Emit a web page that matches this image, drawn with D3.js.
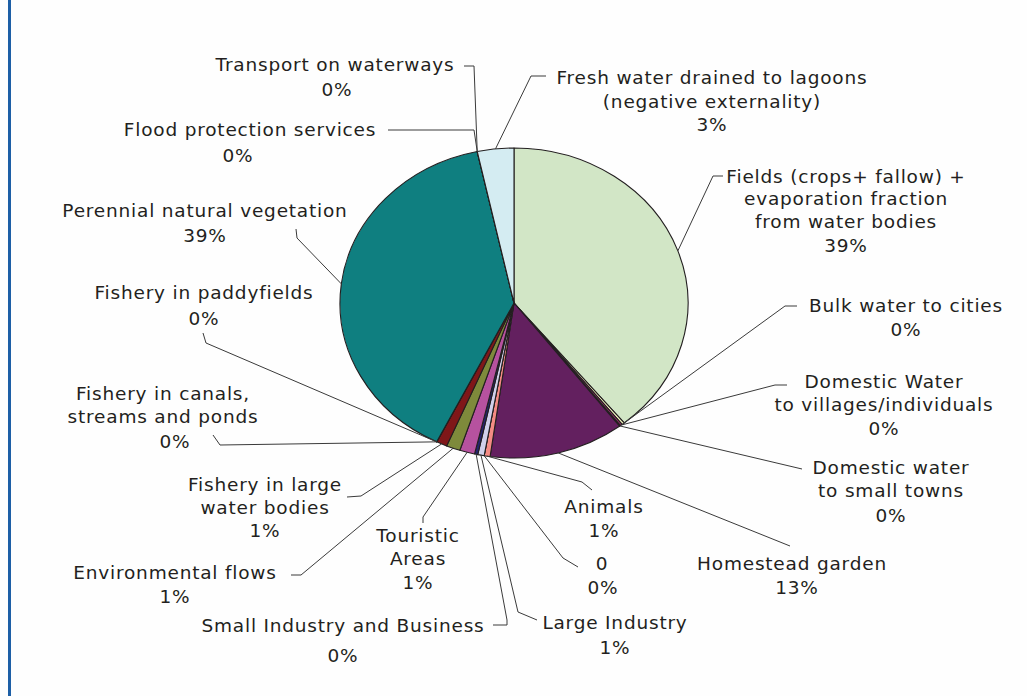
<!DOCTYPE html>
<html>
<head>
<meta charset="utf-8">
<script src="https://cdn.jsdelivr.net/npm/d3@7"></script>
<style>
  html, body { margin: 0; padding: 0; background: #fefefe; }
  svg { display: block; }
  .lbl { font-family: "DejaVu Sans", sans-serif; font-size: 18.5px; letter-spacing: 0.8px; fill: #231f20; }
</style>
</head>
<body>
<svg id="chart" width="1027" height="696"></svg>
<script>
// Water uses, in clockwise order from 12 o'clock
const categories = [
  "Fields (crops+ fallow) + evaporation fraction from water bodies",
  "Bulk water to cities",
  "Domestic Water to villages/individuals",
  "Domestic water to small towns",
  "Homestead garden",
  "Animals",
  "0",
  "Large Industry",
  "Small Industry and Business",
  "Touristic Areas",
  "Environmental flows",
  "Fishery in large water bodies",
  "Fishery in canals, streams and ponds",
  "Fishery in paddyfields",
  "Perennial natural vegetation",
  "Flood protection services",
  "Transport on waterways",
  "Fresh water drained to lagoons (negative externality)"
];
// Share of water use (%)
const shares = [39.2, 0.25, 0.2, 0.1, 12.6, 0.55, 0, 0.6, 0.3, 1.4, 1.3, 1.0, 0, 0, 39.4, 0, 0, 3.4];
// Label text, split into display lines (the percentage is appended from the data)
const labelLines = [
  ["Fields (crops+ fallow) +", "evaporation fraction", "from water bodies"],
  ["Bulk water to cities"],
  ["Domestic Water", "to villages/individuals"],
  ["Domestic water", "to small towns"],
  ["Homestead garden"],
  ["Animals"],
  ["0"],
  ["Large Industry"],
  ["Small Industry and Business"],
  ["Touristic", "Areas"],
  ["Environmental flows"],
  ["Fishery in large", "water bodies"],
  ["Fishery in canals,", "streams and ponds"],
  ["Fishery in paddyfields"],
  ["Perennial natural vegetation"],
  ["Flood protection services"],
  ["Transport on waterways"],
  ["Fresh water drained to lagoons", "(negative externality)"]
];
const colors = [
  "#d2e6c6", "#f5f3c1", "#9c2f6e", "#d6eef0", "#63205f", "#f48b84", "#1f5fa6",
  "#d0d0ea", "#24246e", "#b6529f", "#7e8a3b", "#7f1719", "#5a5a9a", "#3a7ab0",
  "#0f7f80", "#8fb0d0", "#b0c0e0", "#d4ecf2"
];

// Label placement: per-line [x, y] text centres and leader-line points (label end first)
const layout = [
  { pos: [[846,176],[846,198],[846,221],[846,245]], leader: [[723,176],[713,176]] },
  { pos: [[906,305],[906,329]], leader: [[797,306],[785,306]] },
  { pos: [[884,381],[884,404],[884,428]], leader: [[787,385],[775,385]] },
  { pos: [[891,467],[891,490],[891,515]], leader: [[802,469]] },
  { pos: [[792,563],[797,587]], leader: [[790,546]] },
  { pos: [[604,506],[604,530]], leader: [[592,490],[582,482]] },
  { pos: [[602,563],[603,587]], leader: [[578,567],[563,558]] },
  { pos: [[615,622],[615,647]], leader: [[537,620],[518,612]] },
  { pos: [[343,625],[343,655]], leader: [[493,625],[507,625],[507,620]] },
  { pos: [[418,535],[418,558],[418,582]], leader: [[423,523],[423,517]] },
  { pos: [[175,572],[175,596]], leader: [[291,575],[301,575]] },
  { pos: [[265,484],[265,507],[265,530]], leader: [[347,497],[361,496]] },
  { pos: [[163,393],[163,416],[175,441]], leader: [[213,435],[220,445]] },
  { pos: [[204,292],[204,318]], leader: [[203,333],[206,343]] },
  { pos: [[205,210],[205,235]], leader: [[296,229],[297,238]] },
  { pos: [[250,129],[238,155]], leader: [[388,130],[474,130]] },
  { pos: [[335,64],[337,89]], leader: [[464,66],[474,66]] },
  { pos: [[712,77],[712,101],[712,124]], leader: [[546,76],[531,76]] }
];

const svg = d3.select("#chart");
const W = 1027, H = 696;

// Blue rule down the left side
svg.append("rect").attr("x", 8).attr("y", 0).attr("width", 3).attr("height", H).attr("fill", "#1d5fa6");

const cx = 514, cy = 303, rx = 174, ry = 155;
const total = d3.sum(shares);
const data = categories.map((c, i) => ({ name: c, value: shares[i], color: colors[i], lines: labelLines[i], lay: layout[i] }));

const pie = d3.pie().sort(null).value(d => d.value).startAngle(0).endAngle(2 * Math.PI);
const arcs = pie(data);
const arc = d3.arc().innerRadius(0).outerRadius(rx);

// Pie, flattened vertically into an ellipse
const g = svg.append("g").attr("transform", `translate(${cx},${cy}) scale(1,${ry / rx})`);
g.selectAll("path.slice")
  .data(arcs)
  .join("path")
  .attr("class", "slice")
  .attr("d", arc)
  .attr("fill", d => d.data.color)
  .attr("stroke", "#231f20")
  .attr("stroke-width", 1.1)
  .attr("stroke-linejoin", "round")
  .attr("vector-effect", "non-scaling-stroke");

// Point on the pie rim at the middle of each slice
const anchor = d => {
  const a = (d.startAngle + d.endAngle) / 2;
  return [cx + rx * Math.sin(a), cy - ry * Math.cos(a)];
};

// Leader lines
const line = d3.line();
svg.append("g").selectAll("path")
  .data(arcs)
  .join("path")
  .attr("d", d => line([...d.data.lay.leader, anchor(d)]))
  .attr("fill", "none")
  .attr("stroke", "#3a3a3a")
  .attr("stroke-width", 1);

// Labels: one text per slice, name lines followed by the rounded percentage
svg.append("g").selectAll("text")
  .data(arcs)
  .join("text")
  .attr("class", "lbl")
  .attr("text-anchor", "middle")
  .each(function (d) {
    const texts = [...d.data.lines, Math.round(d.data.value / total * 100) + "%"];
    d3.select(this).selectAll("tspan")
      .data(texts)
      .join("tspan")
      .attr("x", (t, k) => d.data.lay.pos[k][0])
      .attr("y", (t, k) => d.data.lay.pos[k][1] + 6.5)
      .text(t => t);
  });
</script>
</body>
</html>
